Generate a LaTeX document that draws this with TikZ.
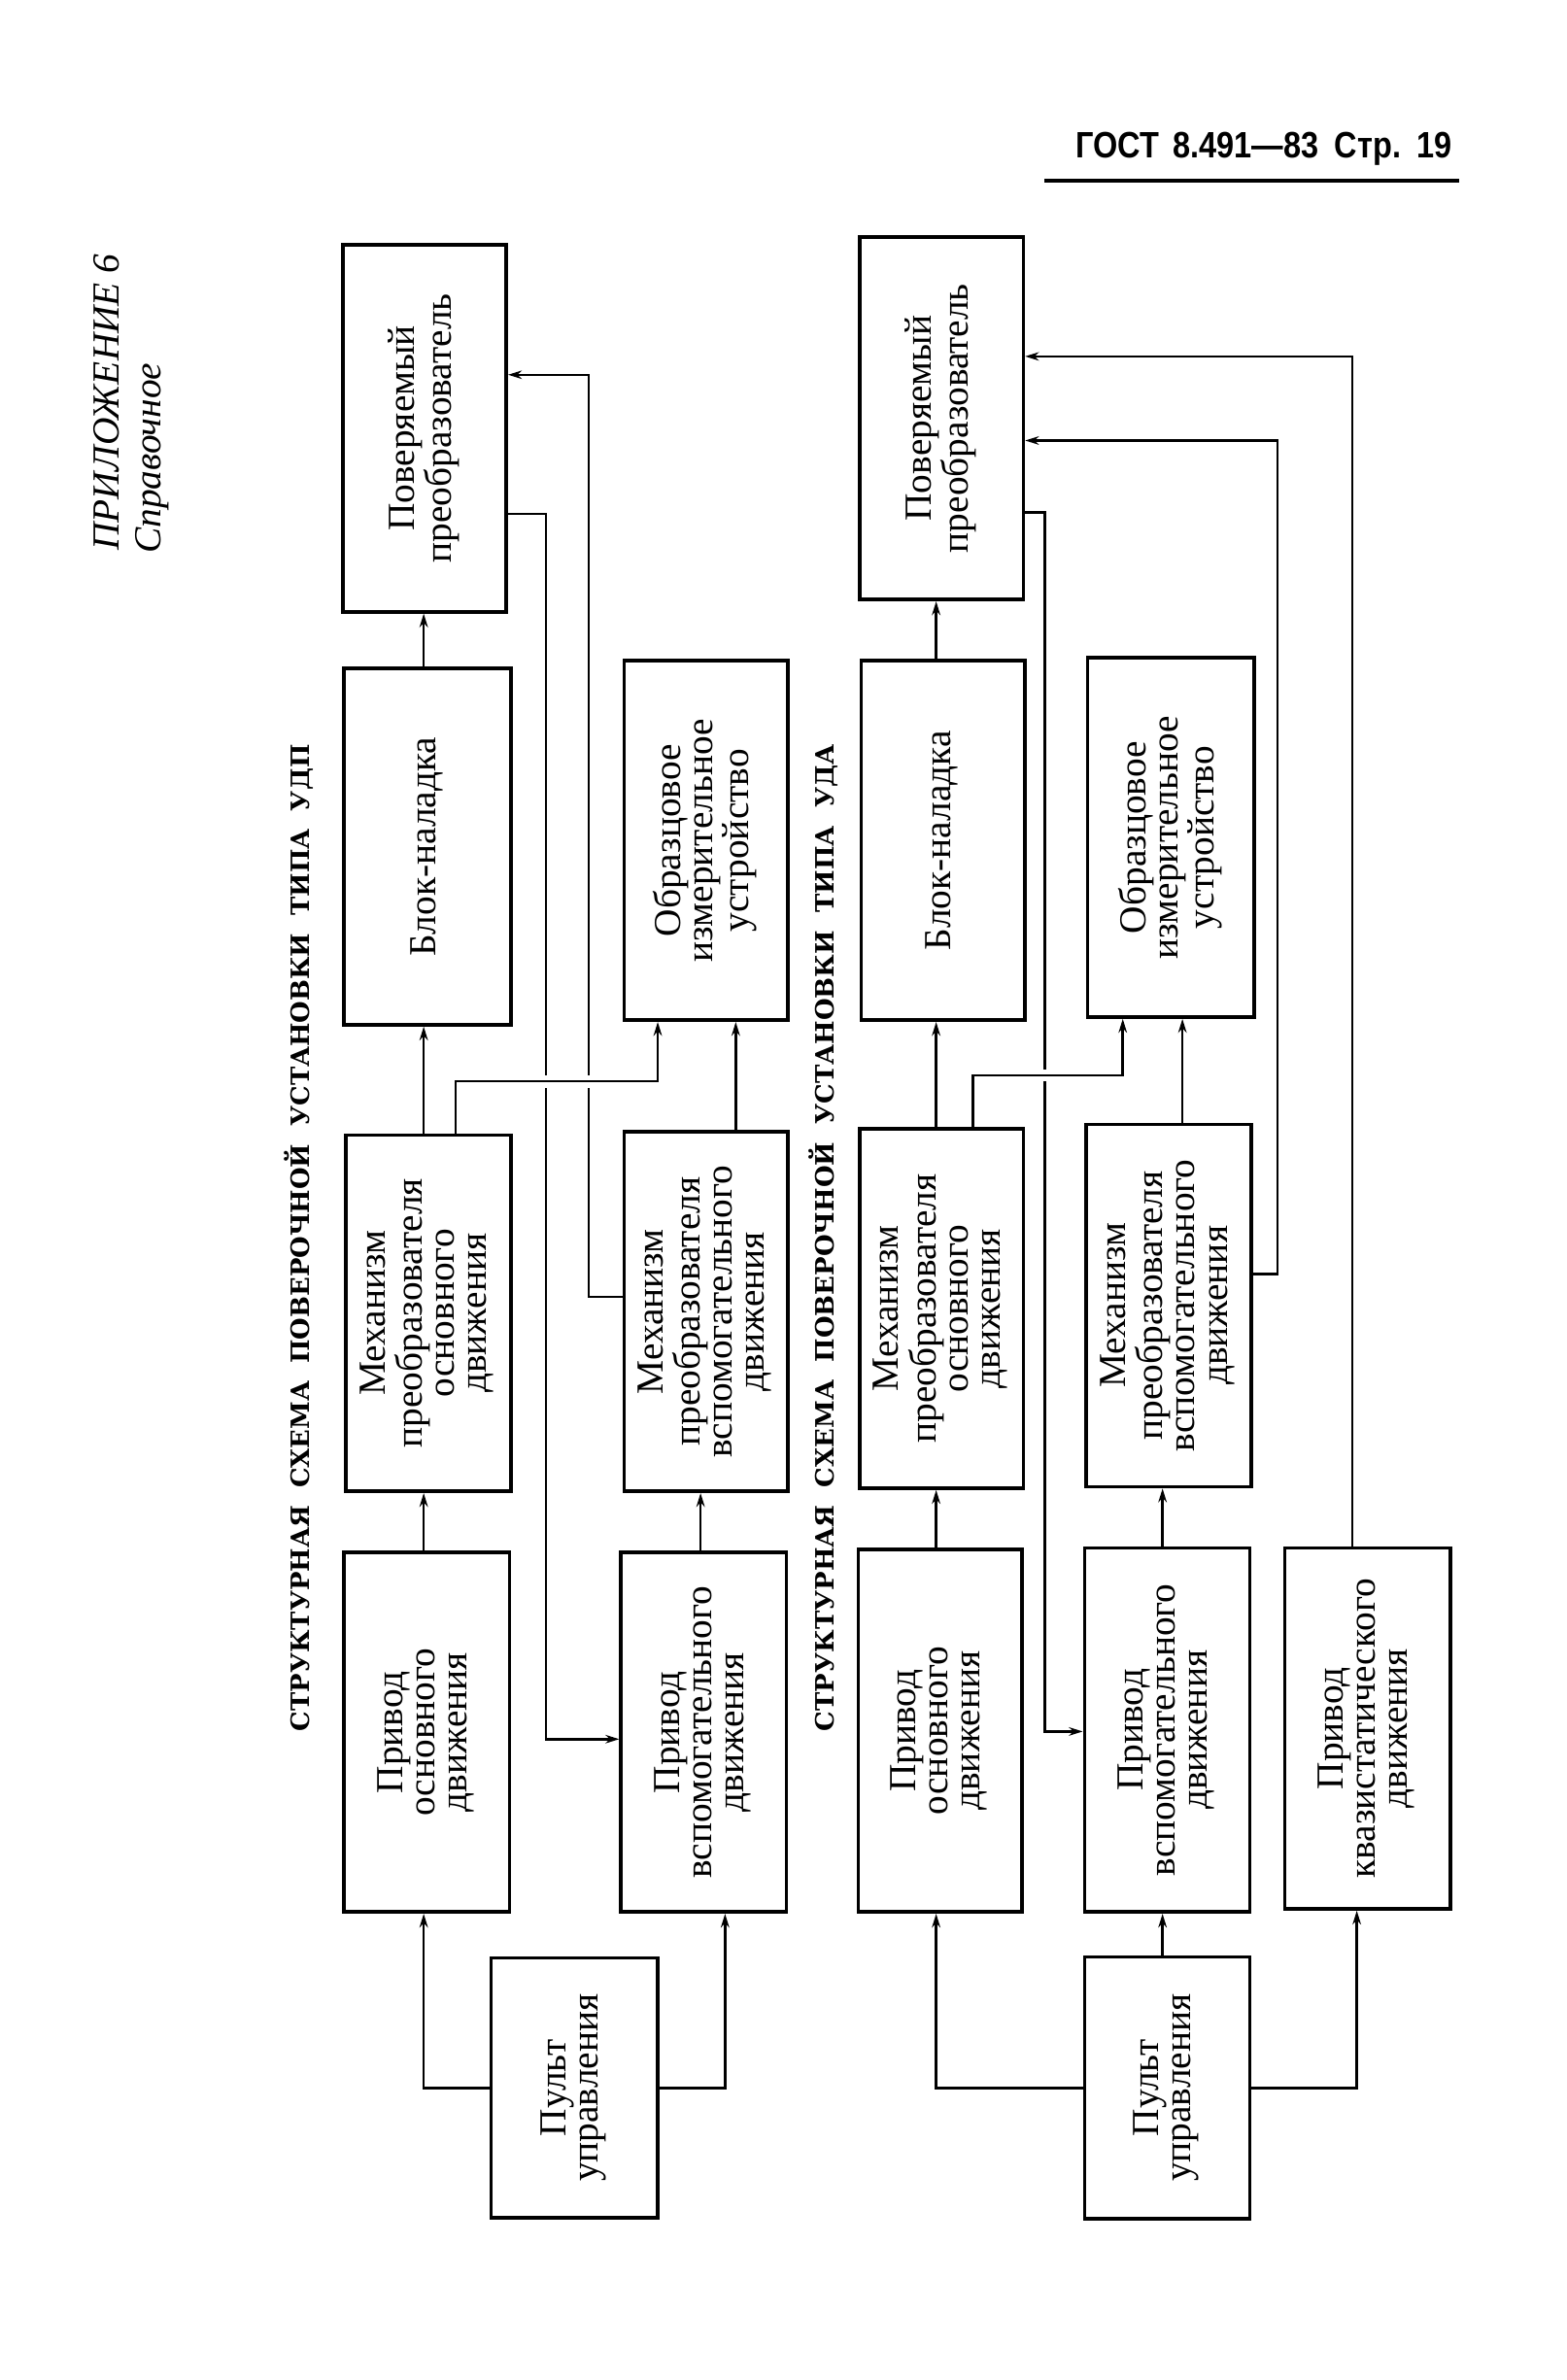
\documentclass[tikz,border=0pt]{standalone}
\usepackage{fontspec}
\usepackage{graphicx}
\setmainfont{Liberation Serif}
\newfontfamily\hdrfont{Liberation Sans}
\newfontfamily\ttlfont{DejaVu Serif}
\usetikzlibrary{arrows.meta}
\newcommand{\rt}[1]{\rotatebox{90}{\begin{tabular}{@{}c@{}}#1\end{tabular}}}
\newcommand{\ws}{\hspace{0.7em}}
\tikzset{
  blk/.style={draw, line width=2.3pt, inner sep=0pt, font=\fontsize{25}{21}\selectfont},
  arr/.style={line width=1.6pt, -{Stealth[length=9pt,width=5.5pt]}},
  gapmask/.style={draw=white, line width=8pt, shorten >=9pt, shorten <=9pt},
  ttl/.style={rotate=90, anchor=base west, inner sep=0pt, font=\ttlfont\bfseries\fontsize{18.5}{20}\selectfont},
  apx/.style={rotate=90, anchor=base west, inner sep=0pt, font=\itshape\fontsize{25}{27}\selectfont},
}
\begin{document}
\begin{tikzpicture}[x=1pt,y=-1pt]
\fill[white] (0,0) rectangle (1024,1556);
\useasboundingbox (0,0) rectangle (1024,1556);

% header
\node[anchor=base west, inner sep=0pt, font=\hdrfont\bfseries\fontsize{24}{26}\selectfont] (G) at (703,103) {\scalebox{0.86}[1]{ГОСТ\hspace{0.45em}8.491—83\hspace{0.5em}Стр.\hspace{0.5em}19}};
\coordinate (hl1) at (683,118);
\coordinate (hl2) at (954,118);
\draw[line width=2.8pt] (hl1) -- (hl2);

% appendix
\node[apx] (H1) at (78,360) {ПРИЛОЖЕНИЕ 6};
\node[apx] (H2) at (105,362) {Справочное};

% titles
\node[ttl] (T1) at (202,1132) {\resizebox{645pt}{!}{СТРУКТУРНАЯ\ws СХЕМА\ws ПОВЕРОЧНОЙ\ws УСТАНОВКИ\ws ТИПА\ws УДП}};
\node[ttl] (T2) at (545,1132) {\resizebox{645pt}{!}{СТРУКТУРНАЯ\ws СХЕМА\ws ПОВЕРОЧНОЙ\ws УСТАНОВКИ\ws ТИПА\ws УДА}};

% ---------- left diagram (УДП) ----------
\node[blk, minimum width=107pt, minimum height=240pt] (A1) at (277.5,280) {\rt{Поверяемый\\преобразователь}};
\node[blk, minimum width=109pt, minimum height=233pt] (A2) at (279.5,553.5) {\rt{Блок-наладка}};
\node[blk, minimum width=108pt, minimum height=233pt] (A3) at (280,858.5) {\rt{Механизм\\преобразователя\\основного\\движения}};
\node[blk, minimum width=108pt, minimum height=235pt] (A4) at (279,1132.5) {\rt{Привод\\основного\\движения}};
\node[blk, minimum width=107pt, minimum height=235pt] (B2) at (461.5,549.5) {\rt{Образцовое\\измерительное\\устройство}};
\node[blk, minimum width=107pt, minimum height=235pt] (B3) at (461.5,857.5) {\rt{Механизм\\преобразователя\\вспомогательного\\движения}};
\node[blk, minimum width=108pt, minimum height=235pt] (B4) at (460,1132.5) {\rt{Привод\\вспомогательного\\движения}};
\node[blk, minimum width=109pt, minimum height=170pt] (C) at (375.5,1365) {\rt{Пульт\\управления}};

\coordinate (xa) at (277,0);
\coordinate (xb) at (458,0);
\coordinate (xc) at (481,0);
\coordinate (xd) at (474,0);
\coordinate (ja) at (298,707);
\coordinate (jb) at (430,707);
\coordinate (ma) at (385,848);
\coordinate (mb) at (385,245);
\coordinate (pa) at (357,336);
\coordinate (pb) at (357,1137);

\draw[arr] (A4.north -| xa) -- (A3.south -| xa);
\draw[arr] (A3.north -| xa) -- (A2.south -| xa);
\draw[arr] (A2.north -| xa) -- (A1.south -| xa);
\draw[arr] (B4.north -| xb) -- (B3.south -| xb);
\draw[arr] (B3.north -| xc) -- (B2.south -| xc);
\draw[arr] (C.west) -| (A4.south -| xa);
\draw[arr] (C.east) -| (B4.south -| xd);
\draw[arr] (B3.west |- ma) -- (ma) -- (mb) -- (A1.east |- mb);
\draw[arr] (A1.east |- pa) -- (pa) -- (pb) -- (B4.west |- pb);
\draw[gapmask] (ja) -- (jb);
\draw[arr] (A3.north -| ja) -- (ja) -| (B2.south -| jb);

% ---------- right diagram (УДА) ----------
\node[blk, minimum width=107pt, minimum height=237pt] (R1) at (615.5,273.5) {\rt{Поверяемый\\преобразователь}};
\node[blk, minimum width=107pt, minimum height=235pt] (R2) at (616.5,549.5) {\rt{Блок-наладка}};
\node[blk, minimum width=107pt, minimum height=235pt] (R3) at (615.5,855.5) {\rt{Механизм\\преобразователя\\основного\\движения}};
\node[blk, minimum width=107pt, minimum height=237pt] (R4) at (614.5,1131.5) {\rt{Привод\\основного\\движения}};
\node[blk, minimum width=109pt, minimum height=235pt] (S2) at (765.5,547.5) {\rt{Образцовое\\измерительное\\устройство}};
\node[blk, minimum width=108pt, minimum height=237pt] (S3) at (764,853.5) {\rt{Механизм\\преобразователя\\вспомогательного\\движения}};
\node[blk, minimum width=108pt, minimum height=238pt] (S4) at (763,1131) {\rt{Привод\\вспомогательного\\движения}};
\node[blk, minimum width=108pt, minimum height=236pt] (Q) at (894,1130) {\rt{Привод\\квазистатического\\движения}};
\node[blk, minimum width=108pt, minimum height=171pt] (P) at (763,1365) {\rt{Пульт\\управления}};

\coordinate (ya) at (612,0);
\coordinate (yb) at (760,0);
\coordinate (yc) at (773,0);
\coordinate (rd) at (887,0);
\coordinate (ka) at (636,703);
\coordinate (kb) at (734,703);
\coordinate (na) at (835,833);
\coordinate (nb) at (835,288);
\coordinate (qa) at (683,335);
\coordinate (qb) at (683,1132);
\coordinate (ra) at (884,233);

\draw[arr] (R4.north -| ya) -- (R3.south -| ya);
\draw[arr] (R3.north -| ya) -- (R2.south -| ya);
\draw[arr] (R2.north -| ya) -- (R1.south -| ya);
\draw[arr] (S4.north -| yb) -- (S3.south -| yb);
\draw[arr] (S3.north -| yc) -- (S2.south -| yc);
\draw[arr] (P.west) -| (R4.south -| ya);
\draw[arr] (P.north -| yb) -- (S4.south -| yb);
\draw[arr] (P.east) -| (Q.south -| rd);
\draw[arr] (S3.east |- na) -- (na) -- (nb) -- (R1.east |- nb);
\draw[arr] (R1.east |- qa) -- (qa) -- (qb) -- (S4.west |- qb);
\draw[arr] (Q.north -| ra) -- (ra) -- (R1.east |- ra);
\draw[gapmask] (ka) -- (kb);
\draw[arr] (R3.north -| ka) -- (ka) -| (S2.south -| kb);
\end{tikzpicture}
\end{document}
